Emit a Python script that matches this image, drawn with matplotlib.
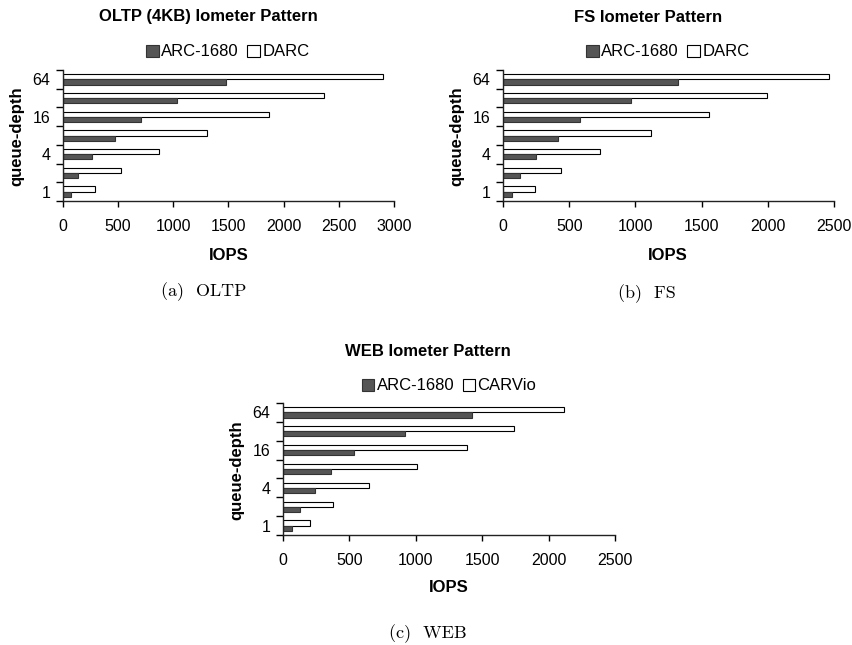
import matplotlib
matplotlib.use("Agg")
import matplotlib.pyplot as plt
from matplotlib.patches import Patch
import numpy as np

depths = ["1", "2", "4", "8", "16", "32", "64"]
shown_labels = ["1", "", "4", "", "16", "", "64"]

oltp_arc = [72, 136, 260, 474, 704, 1036, 1480]
oltp_darc = [293, 523, 870, 1308, 1867, 2365, 2903]

fs_arc = [66, 131, 252, 416, 582, 970, 1323]
fs_darc = [242, 438, 733, 1121, 1557, 1996, 2460]

web_arc = [68, 128, 244, 365, 531, 920, 1421]
web_carvio = [204, 377, 649, 1011, 1383, 1743, 2118]

W, H = 853, 645
fig = plt.figure(figsize=(W / 100, H / 100), dpi=100)
plt.rcParams['font.family'] = ['Liberation Sans', 'DejaVu Sans']

DARK = "#555555"


def px(x, y):
    return x / W, 1 - y / H


def panel(rect, arc, other, other_name, xmax, title, title_xy, leg_xy, ylab_xy, xlab_xy, cap, cap_xy):
    l, t, r, b = rect
    ax = fig.add_axes([l / W, 1 - b / H, (r - l) / W, (b - t) / H])
    y = np.arange(len(depths))
    h = 0.276
    ax.barh(y + h / 2, other, height=h, color="white", edgecolor="black", linewidth=0.8, label=other_name)
    ax.barh(y - h / 2, arc, height=h, color=DARK, edgecolor="#333333", linewidth=0.8, label="ARC-1680")
    ax.set_ylim(-0.5, len(depths) - 0.5)
    ax.set_xlim(0, xmax)
    ax.set_xticks(np.arange(0, xmax + 1, 500))
    ax.set_yticks(y)
    ax.set_yticklabels(shown_labels)
    ax.set_yticks(np.arange(-0.5, len(depths), 1.0), minor=True)
    ax.tick_params(axis="y", which="major", length=0, pad=9, labelsize=11.5)
    ax.tick_params(axis="y", which="minor", length=5, width=1, direction="out")
    ax.tick_params(axis="x", which="major", length=4, width=1, direction="out", pad=9, labelsize=11.5)
    for s in ["top", "right"]:
        ax.spines[s].set_visible(False)
    for s in ["left", "bottom"]:
        ax.spines[s].set_linewidth(1.0)
        ax.spines[s].set_color("#222222")
    fig.text(*px(*title_xy), title, ha="center", va="center", fontsize=12, fontweight="bold")
    handles = [Patch(facecolor=DARK, edgecolor="#333333", linewidth=0.8),
               Patch(facecolor="white", edgecolor="black", linewidth=0.8)]
    fig.legend(handles, ["ARC-1680", other_name], loc="center", bbox_to_anchor=px(*leg_xy),
               ncol=2, frameon=False, fontsize=12, handlelength=0.75, handleheight=0.75,
               handletextpad=0.15, columnspacing=0.5, borderpad=0, borderaxespad=0)
    fig.text(*px(*ylab_xy), "queue-depth", ha="center", va="center", rotation=90,
             fontsize=12, fontweight="bold")
    fig.text(*px(*xlab_xy), "IOPS", ha="center", va="center", fontsize=12, fontweight="bold")
    fig.text(*px(*cap_xy), cap, ha="center", va="center", fontsize=13, family="cmr10")
    return ax


panel((63, 70, 394, 201), oltp_arc, oltp_darc, "DARC", 3000,
      "OLTP (4KB) Iometer Pattern", (208, 17), (228, 52), (17, 136), (229, 255),
      "(a)  OLTP", (204, 292))
panel((503, 70, 834, 201), fs_arc, fs_darc, "DARC", 2500,
      "FS Iometer Pattern", (648, 17), (668, 52), (457, 136), (668, 255),
      "(b)  FS", (647, 294))
panel((283, 403, 615, 535), web_arc, web_carvio, "CARVio", 2500,
      "WEB Iometer Pattern", (428, 351), (449, 386), (237, 470), (449, 587),
      "(c)  WEB", (428, 634))

fig.savefig("out.png", dpi=100)
